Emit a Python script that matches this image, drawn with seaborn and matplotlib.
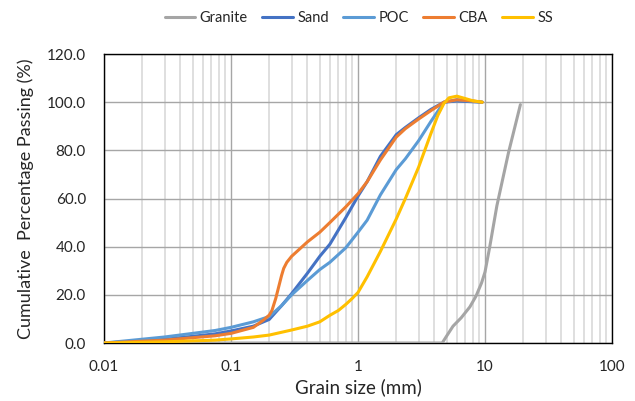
import matplotlib
matplotlib.use('Agg')
import matplotlib.pyplot as plt
import matplotlib.ticker as mticker
import pandas as pd
import seaborn as sns

# Grain size distribution values
granite_size = [0.01, 0.1, 1.0, 4.6, 5.0, 5.6, 6.5, 7.6, 8.5, 9.4, 10.0, 10.9, 12.4, 15.3, 19.0]
granite_pass = [0.0, 0.0, 0.0, 0.0, 3.0, 7.0, 10.5, 15.0, 19.5, 25.0, 29.5, 40.0, 57.0, 79.0, 99.0]

sand_size = [0.01, 0.03, 0.075, 0.1, 0.15, 0.2, 0.25, 0.3, 0.4, 0.5, 0.6, 0.8, 1.0, 1.18,
             1.5, 2.0, 2.36, 3.0, 3.75, 4.75, 6.0, 9.5]
sand_pass = [0.0, 1.5, 3.8, 5.0, 7.0, 9.8, 15.5, 20.5, 29.0, 36.0, 41.0, 52.0, 61.0, 67.0,
             77.5, 86.5, 89.5, 93.5, 97.0, 100.0, 100.5, 100.0]

poc_size = [0.01, 0.03, 0.075, 0.1, 0.15, 0.2, 0.25, 0.3, 0.4, 0.5, 0.6, 0.8, 1.0, 1.18,
            1.5, 2.0, 2.36, 3.0, 3.75, 4.75, 6.0, 9.5]
poc_pass = [0.0, 2.5, 5.2, 6.5, 8.8, 11.0, 15.5, 20.0, 26.0, 30.5, 33.5, 39.5, 46.0, 51.0,
            61.5, 72.0, 76.5, 84.0, 92.0, 100.0, 101.0, 100.0]

cba_size = [0.01, 0.03, 0.075, 0.1, 0.15, 0.18, 0.2, 0.21, 0.225, 0.25, 0.26, 0.275, 0.3, 0.4,
            0.5, 0.6, 0.8, 1.0, 1.18, 1.5, 2.0, 2.36, 3.0, 3.75, 4.75, 6.0, 8.0, 9.5]
cba_pass = [0.0, 1.2, 3.0, 4.0, 6.5, 9.5, 11.6, 13.5, 18.5, 28.0, 31.0, 33.5, 36.0, 42.0,
            46.0, 50.0, 56.5, 62.0, 67.0, 76.0, 85.5, 89.0, 93.0, 96.5, 100.0, 101.0, 100.5, 100.0]

ss_size = [0.01, 0.03, 0.075, 0.1, 0.15, 0.2, 0.3, 0.4, 0.5, 0.6, 0.7, 0.8, 0.9, 1.0, 1.18,
           1.5, 2.0, 2.36, 3.0, 3.75, 4.25, 4.75, 5.2, 6.0, 7.0, 8.0, 9.5]
ss_pass = [0.0, 0.5, 1.2, 1.7, 2.5, 3.3, 5.4, 7.0, 8.8, 11.5, 13.5, 16.0, 18.5, 21.0, 27.5,
           38.0, 51.5, 60.0, 73.0, 87.0, 94.5, 99.5, 101.8, 102.5, 101.5, 100.6, 100.0]

materials = ['Granite', 'Sand', 'POC', 'CBA', 'SS']
colors = ['#A5A5A5', '#4472C4', '#5B9BD5', '#ED7D31', '#FFC000']

frames = []
for name, xs, ys in zip(materials,
                        [granite_size, sand_size, poc_size, cba_size, ss_size],
                        [granite_pass, sand_pass, poc_pass, cba_pass, ss_pass]):
    frames.append(pd.DataFrame({'size': xs, 'passing': ys, 'material': name}))
df = pd.concat(frames, ignore_index=True)

sns.set_style('white')
plt.rcParams['font.family'] = ['Lato', 'DejaVu Sans']

fig = plt.figure(figsize=(6.35, 4.01), dpi=100)
ax = fig.add_axes([0.1638, 0.1446, 0.8, 0.7207])

sns.lineplot(data=df, x='size', y='passing', hue='material', hue_order=materials,
             palette=dict(zip(materials, colors)), estimator=None, sort=False,
             linewidth=2.2, ax=ax, zorder=3)

ax.set_xscale('log')
ax.set_xlim(0.01, 100)
ax.set_ylim(0, 120)
ax.set_yticks(range(0, 121, 20))
ax.yaxis.set_major_formatter(mticker.FormatStrFormatter('%.1f'))
ax.xaxis.set_major_locator(mticker.FixedLocator([0.01, 0.1, 1, 10, 100]))
ax.xaxis.set_major_formatter(mticker.FixedFormatter(['0.01', '0.1', '1', '10', '100']))
ax.xaxis.set_minor_locator(mticker.LogLocator(base=10, subs=range(2, 10)))
ax.xaxis.set_minor_formatter(mticker.NullFormatter())

ax.grid(which='major', axis='both', color='#A6A6A6', linewidth=1.0, zorder=0)
ax.grid(which='minor', axis='x', color='#D9D9D9', linewidth=1.2, zorder=0)
ax.set_axisbelow(True)
ax.tick_params(axis='both', which='both', length=0, labelsize=11, colors='#262626')
ax.tick_params(axis='x', pad=12)
ax.tick_params(axis='y', pad=13)

for s in ax.spines.values():
    s.set_visible(True)
    s.set_color('black')
    s.set_linewidth(1.0)
    s.set_zorder(1)

ax.set_xlabel('Grain size (mm)', fontsize=13.5, color='#262626', labelpad=3)
ax.set_ylabel('Cumulative  Percentage Passing (%)', fontsize=13, color='#262626', labelpad=9)

sns.move_legend(ax, 'center', bbox_to_anchor=(0.565, 0.955), bbox_transform=fig.transFigure,
                ncol=5, frameon=False, title=None, fontsize=10.5, handlelength=2.1,
                handletextpad=0.3, columnspacing=1.0)

fig.savefig('out.png', dpi=100)
